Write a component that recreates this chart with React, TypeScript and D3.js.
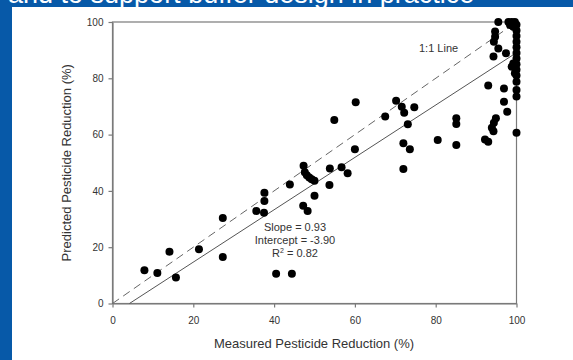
import React, { useEffect, useRef } from 'react';
import * as d3 from 'd3';

// measured vs predicted pesticide reduction (%)
const measured = [
  7.9, 11.1, 14.1, 15.7, 21.4, 27.3, 27.3, 35.6, 37.6, 37.6, 37.5, 43.9, 40.5, 44.4,
  47.2, 48.3, 47.3, 47.6, 48.1, 48.7, 49.3, 50.0, 50.0, 53.7, 53.8, 56.7, 58.2, 54.9,
  60.2, 60.0, 67.5, 70.2, 71.6, 72.2, 74.7, 73.1, 72.0, 73.6, 72.0, 80.5, 85.1, 85.1,
  85.1, 92.2, 93.0, 94.9, 94.4, 93.9, 94.3, 97.7, 96.9, 96.9, 93.0, 100, 100, 100,
  100, 99.6, 98.8, 99.2, 97.4, 94.3, 95.5, 94.4, 94.7, 94.7, 95.5, 98.0, 98.8, 99.6,
  98.4, 99.2, 100, 100, 100, 100, 100, 100, 100, 100, 100, 100,
];
const predicted = [
  11.8, 10.8, 18.4, 9.2, 19.3, 30.4, 16.5, 32.9, 39.3, 36.4, 32.2, 42.3, 10.6, 10.6,
  34.7, 32.9, 48.9, 46.6, 45.6, 44.8, 44.1, 43.6, 38.3, 42.1, 48.0, 48.4, 46.3, 65.2,
  71.5, 54.8, 66.4, 72.0, 69.9, 67.8, 69.7, 63.7, 56.9, 54.8, 47.8, 58.1, 65.8, 63.8,
  56.3, 58.3, 57.5, 65.8, 64.2, 62.4, 61.2, 68.1, 71.7, 76.4, 77.4, 60.7, 73.5, 75.8,
  78.8, 81.8, 84.1, 85.3, 88.9, 87.7, 90.6, 93.0, 94.8, 96.6, 100, 100, 100, 100,
  98.9, 98.3, 99, 97, 95, 93, 91, 89, 87, 85, 83, 81,
];
const ticks = [0, 20, 40, 60, 80, 100];
const slope = 0.93;
const intercept = -3.9;
const statLines = ['Slope = 0.93', 'Intercept = -3.90', 'R2 = 0.82'];

const App = () => {
  const svgRef = useRef(null);
  const width = 573;
  const height = 360;

  useEffect(() => {
    const svg = d3.select(svgRef.current);
    svg.selectAll('*').remove();
    const font = 'Liberation Sans, Arial, sans-serif';

    // blue slide background with white panel
    svg.append('rect').attr('width', width).attr('height', height).attr('fill', '#0759a8');
    svg.append('text')
      .attr('x', 8).attr('y', 3)
      .attr('fill', '#fff')
      .style('font-family', font)
      .style('font-size', '27px')
      .text('and to support buffer design in practice');
    svg.append('rect').attr('x', 12).attr('y', 7).attr('width', width - 12).attr('height', height - 7).attr('fill', '#fff');

    const x = d3.scaleLinear().domain([0, 100]).range([112.5, 516.5]);
    const y = d3.scaleLinear().domain([0, 100]).range([303.5, 22]);
    const axisColor = '#7a7a7a';

    // frame
    svg.append('rect')
      .attr('x', x(0)).attr('y', y(100))
      .attr('width', x(100) - x(0)).attr('height', y(0) - y(100))
      .attr('fill', 'none').attr('stroke', axisColor).attr('stroke-width', 1.2);

    const xAxis = svg.append('g')
      .attr('transform', `translate(0, ${y(0)})`)
      .call(d3.axisBottom(x).tickValues(ticks).tickSize(4).tickPadding(9).tickSizeOuter(0));
    const yAxis = svg.append('g')
      .attr('transform', `translate(${x(0)}, 0)`)
      .call(d3.axisLeft(y).tickValues(ticks).tickSize(4).tickPadding(5).tickSizeOuter(0));
    [xAxis, yAxis].forEach(g => {
      g.select('.domain').attr('stroke', axisColor).attr('stroke-width', 1.2);
      g.selectAll('line').attr('stroke', axisColor).attr('stroke-width', 1.2);
      g.selectAll('text').attr('fill', '#333').style('font-family', font).style('font-size', '10px');
    });

    // 1:1 line
    svg.append('line')
      .attr('x1', x(0)).attr('y1', y(0)).attr('x2', x(100)).attr('y2', y(100))
      .attr('stroke', '#666').attr('stroke-width', 1).attr('stroke-dasharray', '8,5');
    // regression line
    const x0 = -intercept / slope;
    svg.append('line')
      .attr('x1', x(x0)).attr('y1', y(0)).attr('x2', x(100)).attr('y2', y(slope * 100 + intercept))
      .attr('stroke', '#555').attr('stroke-width', 1);

    // points
    svg.selectAll('.pt')
      .data(measured.map((m, i) => [m, predicted[i]]))
      .enter().append('circle')
      .attr('class', 'pt')
      .attr('cx', d => x(d[0]))
      .attr('cy', d => y(d[1]))
      .attr('r', 4)
      .attr('fill', '#000');

    svg.append('text')
      .attr('x', 419).attr('y', 52)
      .attr('fill', '#333')
      .style('font-family', font).style('font-size', '11px')
      .text('1:1 Line');

    // fit stats
    const stats = svg.append('g').attr('fill', '#333').style('font-family', font).style('font-size', '11px').attr('text-anchor', 'middle');
    statLines.forEach((s, i) => {
      const t = stats.append('text').attr('x', 295).attr('y', 231 + i * 13);
      if (s.startsWith('R2')) {
        t.append('tspan').text('R');
        t.append('tspan').attr('dy', -4).style('font-size', '7px').text('2');
        t.append('tspan').attr('dy', 4).text(s.slice(2));
      } else {
        t.text(s);
      }
    });

    // axis titles
    svg.append('text')
      .attr('x', 314).attr('y', 348)
      .attr('text-anchor', 'middle').attr('fill', '#333')
      .style('font-family', font).style('font-size', '13px')
      .text('Measured Pesticide Reduction (%)');
    svg.append('text')
      .attr('transform', `translate(71, ${(y(0) + y(100)) / 2}) rotate(-90)`)
      .attr('text-anchor', 'middle').attr('fill', '#333')
      .style('font-family', font).style('font-size', '13px')
      .text('Predicted Pesticide Reduction (%)');
  }, []);

  return (
    <svg ref={svgRef} width={width} height={height}
      style={{ position: 'absolute', left: 0, top: 0, display: 'block' }} />
  );
};

export default App;
